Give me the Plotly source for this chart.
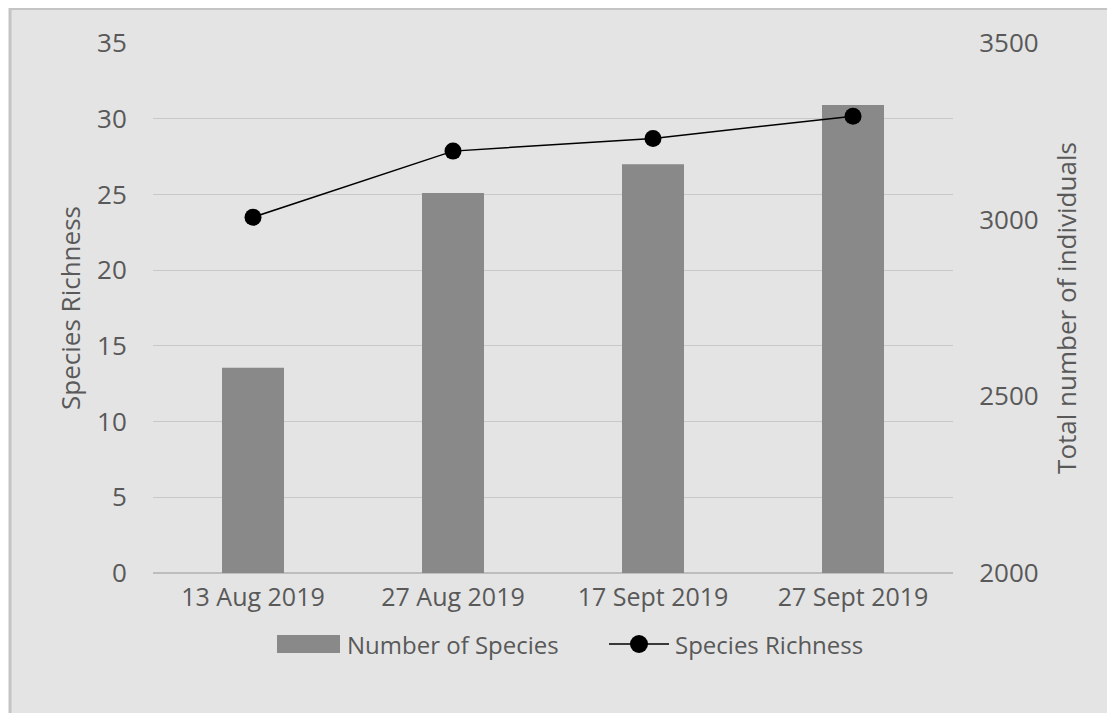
import plotly.graph_objects as go

categories = ["13 Aug 2019", "27 Aug 2019", "17 Sept 2019", "27 Sept 2019"]
number_of_species = [13.55, 25.1, 27.0, 30.9]
species_richness = [3007, 3194, 3230, 3293]
left_ticks = [0, 5, 10, 15, 20, 25, 30, 35]
right_ticks = [2000, 2500, 3000, 3500]
legend_names = ["Number of Species", "Species Richness"]

TXT = "#595959"
BAR = "#898989"
FONT = "Open Sans, DejaVu Sans, sans-serif"

W, H = 1107, 705
L, T, PW, PH = 145, 35, 800, 530


def px(x):  # page pixel x -> paper x
    return (x - 8 - L) / PW


def py(y):  # page pixel y -> paper y
    return 1 - (y - 8 - T) / PH


fig = go.Figure()
fig.add_trace(go.Bar(
    x=categories, y=number_of_species, name=legend_names[0],
    marker=dict(color=BAR, line=dict(width=0)), width=0.31, yaxis="y",
    showlegend=False,
))
fig.add_trace(go.Scatter(
    x=categories, y=species_richness, name=legend_names[1],
    mode="lines+markers", line=dict(color="black", width=1.5),
    marker=dict(color="black", size=17), yaxis="y2", showlegend=False,
))

# custom legend (decoration)
ly = 644
shapes = [
    dict(type="rect", xref="paper", yref="paper",
         x0=(2 - L) / PW, x1=1.3, y0=-0.5, y1=1 + (T - 0.5) / PH,
         fillcolor="#e4e4e4", line=dict(color="#c4c4c4", width=3), layer="below"),
    dict(type="rect", xref="paper", yref="paper", x0=px(277), x1=px(340),
         y0=py(ly - 9), y1=py(ly + 9), fillcolor=BAR, line=dict(width=0)),
    dict(type="line", xref="paper", yref="paper", x0=px(609), x1=px(669),
         y0=py(ly), y1=py(ly), line=dict(color="black", width=1.5)),
    dict(type="circle", xref="paper", yref="paper", x0=px(630), x1=px(648),
         y0=py(ly - 9), y1=py(ly + 9), fillcolor="black", line=dict(width=0)),
]
annotations = [
    dict(text=legend_names[0], xref="paper", yref="paper", x=px(345), y=py(ly),
         xanchor="left", yanchor="middle", showarrow=False,
         font=dict(size=24, color=TXT)),
    dict(text=legend_names[1], xref="paper", yref="paper", x=px(673), y=py(ly),
         xanchor="left", yanchor="middle", showarrow=False,
         font=dict(size=24, color=TXT)),
]

fig.update_layout(
    width=W, height=H,
    paper_bgcolor="white", plot_bgcolor="rgba(0,0,0,0)",
    margin=dict(l=L, r=W - L - PW, t=T, b=H - T - PH, autoexpand=False),
    font=dict(family=FONT, color=TXT, size=22),
    shapes=shapes, annotations=annotations,
    xaxis=dict(type="category", showgrid=False, showline=False, ticks="outside",
               ticklen=2, tickcolor="rgba(0,0,0,0)", tickfont=dict(size=25, color=TXT),
               range=[-0.5, 3.5]),
    yaxis=dict(range=[0, 35], tickvals=left_ticks, showgrid=True, gridcolor="#c8c8c8",
               gridwidth=1, zeroline=True, zerolinecolor="#bdbdbd", zerolinewidth=1.5,
               ticks="outside", ticklen=20, tickcolor="rgba(0,0,0,0)",
               tickfont=dict(size=26, color=TXT),
               title=dict(text="Species Richness", font=dict(size=26, color=TXT), standoff=8)),
    yaxis2=dict(range=[2000, 3500], tickvals=right_ticks, overlaying="y", side="right",
                showgrid=False, zeroline=False, ticks="outside", ticklen=20,
                tickcolor="rgba(0,0,0,0)", tickfont=dict(size=26, color=TXT),
                title=dict(text="Total number of individuals", font=dict(size=26, color=TXT),
                           standoff=20)),
    showlegend=False,
    bargap=0.69,
)

fig.write_html("out.html")
